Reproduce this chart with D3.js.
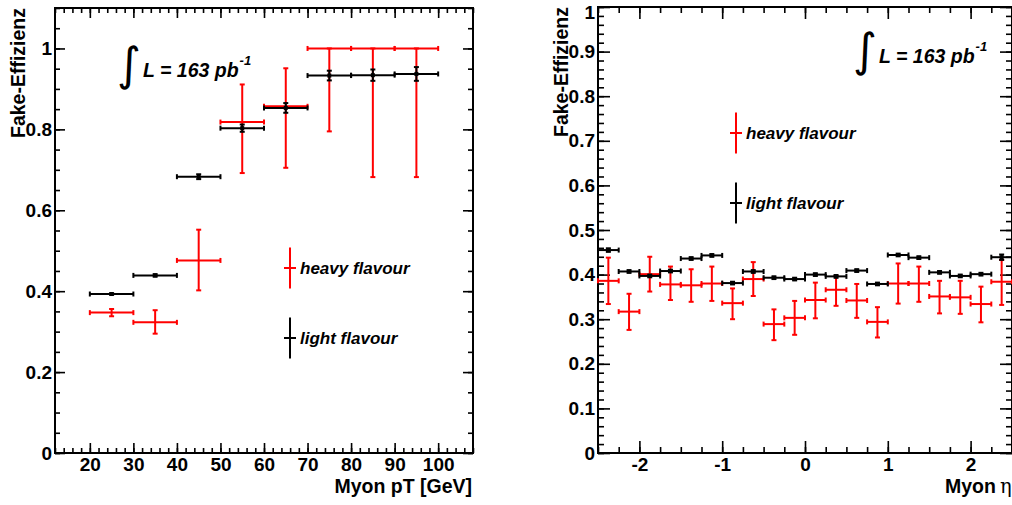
<!DOCTYPE html>
<html lang="de">
<head>
<meta charset="UTF-8">
<title>Fake-Effizienz</title>
<script src="https://cdn.jsdelivr.net/npm/d3@7"></script>
<style>
  body { margin: 0; background: #fff; }
  svg { display: block; font-family: "Liberation Sans", Arial, Helvetica, sans-serif; }
  .tick text { font-size: 19px; font-weight: bold; fill: #000; }
  .tick line { stroke: #000; stroke-width: 1.6; }
  .axis-title { font-size: 19.5px; font-weight: bold; }
  .legend { font-size: 17px; font-weight: bold; font-style: italic; }
  .lumi { font-size: 19.5px; font-weight: bold; font-style: italic; }
</style>
</head>
<body>
<svg id="chart" width="1012" height="505"></svg>
<script>
// --- left panel: efficiency vs muon pT ---
const ptBinLow  = [20, 30, 40, 50, 60, 70, 80, 90];
const ptBinHigh = [30, 40, 50, 60, 70, 80, 90, 100];
const ptHeavy      = [0.347, 0.323, 0.476, 0.818, 0.857, 1.0, 1.0, 1.0];
const ptHeavyErrLo = [0.009, 0.028, 0.074, 0.126, 0.152, 0.205, 0.318, 0.318];
const ptHeavyErrHi = [0.009, 0.030, 0.076, 0.093, 0.094, 0.0, 0.0, 0.0];
const ptLight    = [0.393, 0.439, 0.683, 0.803, 0.853, 0.933, 0.934, 0.937];
const ptLightErr = [0.002, 0.003, 0.006, 0.009, 0.012, 0.012, 0.014, 0.017];
const ptXTicks = [20, 30, 40, 50, 60, 70, 80, 90, 100];
const ptYTicks = [0, 0.2, 0.4, 0.6, 0.8, 1];

// --- right panel: efficiency vs muon eta ---
const etaBinLow  = [-2.5, -2.25, -2, -1.75, -1.5, -1.25, -1, -0.75, -0.5, -0.25,
                    0, 0.25, 0.5, 0.75, 1, 1.25, 1.5, 1.75, 2, 2.25];
const etaBinHigh = [-2.25, -2, -1.75, -1.5, -1.25, -1, -0.75, -0.5, -0.25, 0,
                    0.25, 0.5, 0.75, 1, 1.25, 1.5, 1.75, 2, 2.25, 2.5];
const etaHeavy      = [0.386, 0.317, 0.401, 0.378, 0.376, 0.380, 0.336, 0.390, 0.289, 0.303,
                       0.343, 0.366, 0.342, 0.294, 0.380, 0.380, 0.351, 0.349, 0.334, 0.384];
const etaHeavyErrLo = [0.052, 0.041, 0.039, 0.035, 0.037, 0.039, 0.036, 0.038, 0.036, 0.038,
                       0.041, 0.036, 0.039, 0.035, 0.045, 0.041, 0.038, 0.037, 0.041, 0.052];
const etaHeavyErrHi = [0.052, 0.040, 0.039, 0.040, 0.036, 0.038, 0.033, 0.038, 0.033, 0.038,
                       0.039, 0.031, 0.037, 0.033, 0.045, 0.038, 0.035, 0.037, 0.039, 0.049];
const etaLight    = [0.455, 0.407, 0.397, 0.408, 0.436, 0.443, 0.381, 0.407, 0.393, 0.390,
                     0.400, 0.396, 0.409, 0.379, 0.444, 0.438, 0.405, 0.397, 0.401, 0.439];
const etaLightErr = [0.004, 0.003, 0.003, 0.003, 0.003, 0.003, 0.003, 0.003, 0.003, 0.003,
                     0.003, 0.003, 0.003, 0.003, 0.003, 0.003, 0.003, 0.003, 0.003, 0.006];
const etaXTicks = [-2, -1, 0, 1, 2];
const etaYTicks = [0, 0.1, 0.2, 0.3, 0.4, 0.5, 0.6, 0.7, 0.8, 0.9, 1];

const legendLabels = ["heavy flavour", "light flavour"];
const seriesColors = ["#ff0000", "#000000"];

const svg = d3.select("#chart");
svg.append("rect").attr("width", 1012).attr("height", 505).attr("fill", "#fff");

function stepRange(a, b, step) {
  const n = Math.round((b - a) / step);
  return d3.range(n + 1).map(i => +(a + i * step).toFixed(4));
}

function drawPanel(p) {
  const x = d3.scaleLinear().domain(p.xDomain).range([p.left, p.right]);
  const y = d3.scaleLinear().domain(p.yDomain).range([p.bottom, p.top]);
  const g = svg.append("g");
  const fmt = d => String(+d.toFixed(1));

  // minor ticks on all four sides
  const xMinor = stepRange(p.xDomain[0], p.xDomain[1], p.xMinorStep);
  const yMinor = stepRange(p.yDomain[0], p.yDomain[1], p.yMinorStep);
  const minor = [
    [d3.axisBottom(x).tickValues(xMinor), `translate(0,${p.bottom})`],
    [d3.axisTop(x).tickValues(xMinor), `translate(0,${p.top})`],
    [d3.axisLeft(y).tickValues(yMinor), `translate(${p.left},0)`],
    [d3.axisRight(y).tickValues(yMinor), `translate(${p.right},0)`]
  ];
  minor.forEach(([ax, tr]) => {
    g.append("g").attr("transform", tr)
      .call(ax.tickSizeInner(-p.minorLen).tickSizeOuter(0).tickFormat(""))
      .call(s => s.select(".domain").remove());
  });

  // major ticks + labels
  g.append("g").attr("transform", `translate(0,${p.bottom})`)
    .call(d3.axisBottom(x).tickValues(p.xTicks).tickSizeInner(-p.majorLen)
      .tickSizeOuter(0).tickPadding(5).tickFormat(fmt))
    .call(s => s.select(".domain").remove());
  g.append("g").attr("transform", `translate(0,${p.top})`)
    .call(d3.axisTop(x).tickValues(p.xTicks).tickSizeInner(-p.majorLen)
      .tickSizeOuter(0).tickFormat(""))
    .call(s => s.select(".domain").remove());
  const yAx = g.append("g").attr("transform", `translate(${p.left},0)`)
    .call(d3.axisLeft(y).tickValues(p.yTicks).tickSizeInner(-p.majorLen)
      .tickSizeOuter(0).tickPadding(3).tickFormat(fmt))
    .call(s => s.select(".domain").remove());
  // top label sits flush with the frame: keep it inside the page
  yAx.selectAll(".tick text").filter(d => d === p.yDomain[1]).attr("dy", "0.6em");
  g.append("g").attr("transform", `translate(${p.right},0)`)
    .call(d3.axisRight(y).tickValues(p.yTicks).tickSizeInner(-p.majorLen)
      .tickSizeOuter(0).tickFormat(""))
    .call(s => s.select(".domain").remove());
  g.selectAll(".tick text").attr("font-family", null).attr("font-size", null);

  // frame
  g.append("rect")
    .attr("x", p.left).attr("y", p.top)
    .attr("width", p.right - p.left).attr("height", p.bottom - p.top)
    .attr("fill", "none").attr("stroke", "#000").attr("stroke-width", 2);

  // data: heavy first, light on top
  p.series.forEach((s, si) => {
    const pts = s.val.map((v, i) => ({
      lo: p.binLow[i], hi: p.binHigh[i], c: (p.binLow[i] + p.binHigh[i]) / 2,
      v: v, eLo: s.errLo[i], eHi: s.errHi[i]
    }));
    const sg = g.append("g").attr("stroke", s.color).attr("stroke-width", 2).attr("fill", "none");
    const pt = sg.selectAll("g").data(pts).join("g");
    const cap = 2.5;
    pt.append("line")
      .attr("x1", d => x(d.lo)).attr("x2", d => x(d.hi))
      .attr("y1", d => y(d.v)).attr("y2", d => y(d.v));
    pt.append("line")
      .attr("x1", d => x(d.c)).attr("x2", d => x(d.c))
      .attr("y1", d => y(d.v - d.eLo)).attr("y2", d => y(d.v + d.eHi));
    [d => d.lo, d => d.hi].forEach(fx => {
      pt.append("line")
        .attr("x1", d => x(fx(d))).attr("x2", d => x(fx(d)))
        .attr("y1", d => y(d.v) - cap).attr("y2", d => y(d.v) + cap);
    });
    [d => d.v - d.eLo, d => d.v + d.eHi].forEach(fy => {
      pt.append("line")
        .attr("x1", d => x(d.c) - cap).attr("x2", d => x(d.c) + cap)
        .attr("y1", d => y(fy(d))).attr("y2", d => y(fy(d)));
    });
    if (si === 1) {
      pt.append("rect")
        .attr("x", d => x(d.c) - 2).attr("y", d => y(d.v) - 2)
        .attr("width", 4).attr("height", 4)
        .attr("fill", s.color).attr("stroke", "none");
    }
  });

  // legend
  legendLabels.forEach((lab, i) => {
    const cx = p.legend.x, cy = p.legend.y[i];
    g.append("line").attr("x1", cx).attr("x2", cx).attr("y1", cy - 20.5).attr("y2", cy + 20.5)
      .attr("stroke", seriesColors[i]).attr("stroke-width", 2);
    g.append("line").attr("x1", cx - 6).attr("x2", cx + 6).attr("y1", cy).attr("y2", cy)
      .attr("stroke", seriesColors[i]).attr("stroke-width", 2);
    g.append("text").attr("class", "legend")
      .attr("x", cx + 10).attr("y", cy + 6).text(lab);
  });

  // luminosity label
  g.append("text").attr("x", p.lumi.x - 26).attr("y", p.lumi.y + 3)
    .attr("font-family", "DejaVu Sans").attr("font-size", 46).text("\u222B");
  const lt = g.append("text").attr("class", "lumi").attr("x", p.lumi.x).attr("y", p.lumi.y);
  lt.append("tspan").text("L = 163 pb");
  lt.append("tspan").attr("font-size", 13).attr("dx", 1).attr("dy", -12).text("-1");

  // axis titles
  g.append("text").attr("class", "axis-title")
    .attr("transform", `translate(${p.yTitleX},${p.top})rotate(-90)`)
    .attr("text-anchor", "end").text("Fake-Effizienz");
  const xt = g.append("text").attr("class", "axis-title")
    .attr("x", p.xTitleEnd).attr("y", 493).attr("text-anchor", p.xTitleAnchor);
  xt.append("tspan").text(p.xTitle);
  if (p.xTitleSym) {
    xt.append("tspan").attr("font-weight", "normal").attr("font-family", "DejaVu Serif")
      .attr("dx", 4).text(p.xTitleSym);
  }
}

drawPanel({
  left: 55, right: 473, top: 8, bottom: 453,
  xDomain: [12, 108], yDomain: [0, 1.1],
  xTicks: ptXTicks, yTicks: ptYTicks, xMinorStep: 2, yMinorStep: 0.05,
  majorLen: 10, minorLen: 5,
  binLow: ptBinLow, binHigh: ptBinHigh,
  series: [
    { val: ptHeavy, errLo: ptHeavyErrLo, errHi: ptHeavyErrHi, color: seriesColors[0] },
    { val: ptLight, errLo: ptLightErr, errHi: ptLightErr, color: seriesColors[1] }
  ],
  legend: { x: 290, y: [268, 338] },
  lumi: { x: 143, y: 77 },
  yTitleX: 25, xTitle: "Myon pT [GeV]", xTitleEnd: 472, xTitleAnchor: "end"
});

drawPanel({
  left: 598, right: 1012, top: 7, bottom: 453,
  xDomain: [-2.5, 2.5], yDomain: [0, 1],
  xTicks: etaXTicks, yTicks: etaYTicks, xMinorStep: 0.25, yMinorStep: 0.02,
  majorLen: 12, minorLen: 6,
  binLow: etaBinLow, binHigh: etaBinHigh,
  series: [
    { val: etaHeavy, errLo: etaHeavyErrLo, errHi: etaHeavyErrHi, color: seriesColors[0] },
    { val: etaLight, errLo: etaLightErr, errHi: etaLightErr, color: seriesColors[1] }
  ],
  legend: { x: 736, y: [133, 203] },
  lumi: { x: 879, y: 63 },
  yTitleX: 568, xTitle: "Myon", xTitleSym: "\u03B7", xTitleEnd: 945, xTitleAnchor: "start"
});
</script>
</body>
</html>
